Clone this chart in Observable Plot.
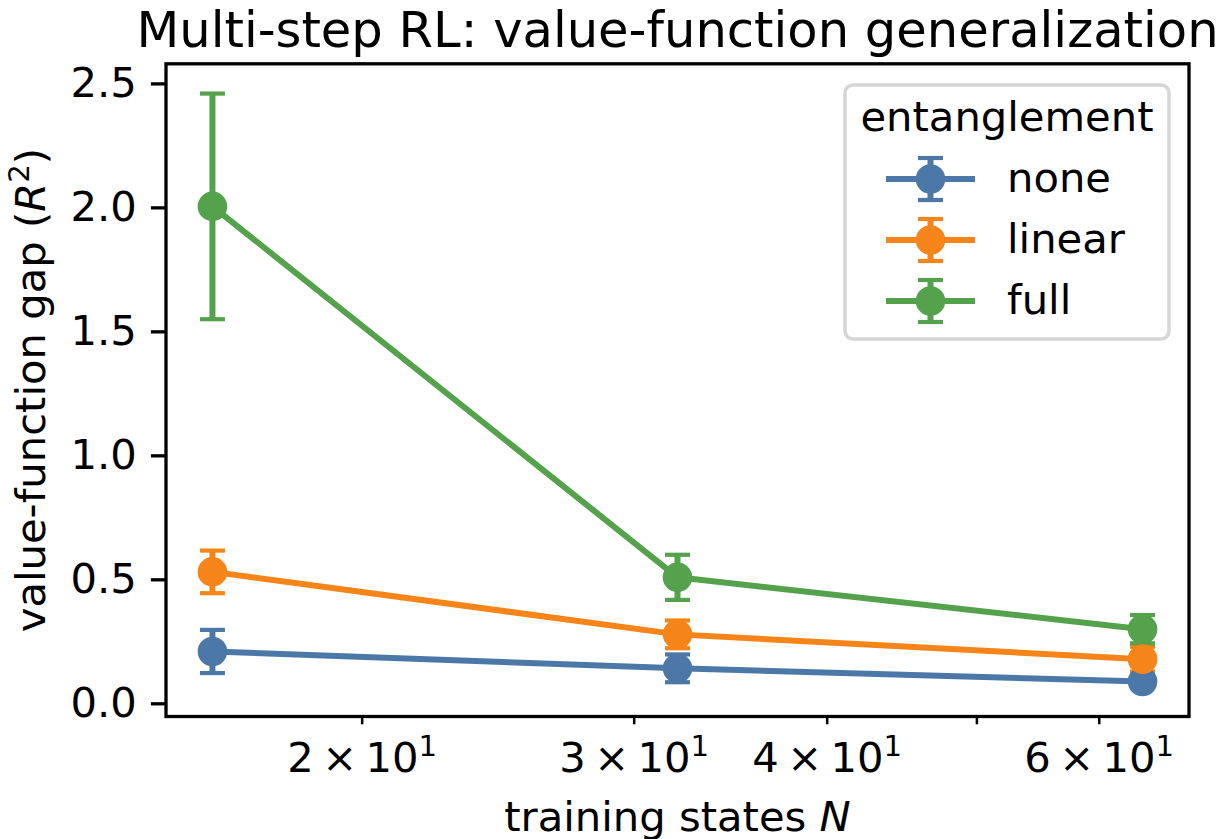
<!DOCTYPE html>
<html>
<head>
<meta charset="utf-8">
<script src="https://cdn.jsdelivr.net/npm/d3@7"></script>
<script src="https://cdn.jsdelivr.net/npm/@observablehq/plot@0.6"></script>
<style>
  html, body { margin: 0; padding: 0; background: #fff; }
  #figure { position: relative; width: 1220px; height: 839px; overflow: hidden; background: #fff; }
  #figure > svg { position: absolute; left: 0; top: 0; }
</style>
</head>
<body>
<div id="figure"></div>
<script>
// ---- data -------------------------------------------------------------
const trainingStates = [16, 32, 64];
const seriesNames = ["none", "linear", "full"];
const seriesColors = ["#4c78a8", "#f58518", "#54a24b"];

// mean value-function gap and its error (half-width) per number of training states
const gapNone   = [0.211, 0.143, 0.090];
const errNone   = [0.087, 0.056, 0.022];
const gapLinear = [0.532, 0.280, 0.180];
const errLinear = [0.086, 0.056, 0.050];
const gapFull   = [2.006, 0.510, 0.301];
const errFull   = [0.455, 0.091, 0.057];

const xTicks = [20, 30, 40, 50, 60];
const xTickLabels = ["2^1", "3^1", "4^1", "", "6^1"]; // mantissa^exponent, base 10
const yTicks = [0, 0.5, 1.0, 1.5, 2.0, 2.5];

const titleText = "Multi-step RL: value-function generalization";
const xLabelText = "training states N";
const yLabelText = "value-function gap (R2)";
const legendTitle = "entanglement";

// ---- table for the marks ----------------------------------------------
const gaps = [gapNone, gapLinear, gapFull];
const errs = [errNone, errLinear, errFull];
const rows = [];
seriesNames.forEach((s, i) => trainingStates.forEach((n, j) => {
  const g = gaps[i][j], e = errs[i][j];
  rows.push({series: s, N: n, gap: g, lo: g - e, hi: g + e});
}));

const FONT = "DejaVu Sans";
const FS = 41.7;       // 10 pt
const FS_TITLE = 49.6; // 12 pt

// horizontal bar used as an error-bar cap
const capSymbol = {
  draw(context, size) {
    const w = Math.sqrt(size / Math.PI);
    context.moveTo(-w, 0);
    context.lineTo(w, 0);
  }
};

const marks = [];
// error bars (drawn beneath lines and markers)
seriesNames.forEach((s, i) => {
  const sub = rows.filter(r => r.series === s);
  const c = seriesColors[i];
  marks.push(Plot.ruleX(sub, {x: "N", y1: "lo", y2: "hi", stroke: c, strokeWidth: 6}));
  marks.push(Plot.dot(sub, {x: "N", y: "hi", symbol: capSymbol, r: 12.5, stroke: c, strokeWidth: 4.2, fill: "none"}));
  marks.push(Plot.dot(sub, {x: "N", y: "lo", symbol: capSymbol, r: 12.5, stroke: c, strokeWidth: 4.2, fill: "none"}));
});
// lines with circular markers
seriesNames.forEach((s, i) => {
  const sub = rows.filter(r => r.series === s);
  const c = seriesColors[i];
  marks.push(Plot.line(sub, {x: "N", y: "gap", stroke: c, strokeWidth: 6}));
  marks.push(Plot.dot(sub, {x: "N", y: "gap", r: 14.8, fill: c, stroke: "none"}));
});

const chart = Plot.plot({
  width: 1220,
  height: 839,
  marginLeft: 165.5,
  marginRight: 31.5,
  marginTop: 63.3,
  marginBottom: 123,
  style: {fontFamily: FONT, fontSize: FS + "px", color: "black", background: "white", overflow: "visible"},
  x: {type: "log", domain: [14.93, 68.59]},
  y: {domain: [-0.0512, 2.581]},
  marks: [
    ...marks,
    Plot.frame({stroke: "black", strokeWidth: 3.3}),
    Plot.axisY(yTicks, {
      anchor: "left", label: null, tickSize: 14.6, tickPadding: 14.6, strokeWidth: 3.3,
      fontSize: FS, tickFormat: d => d.toFixed(1)
    }),
    Plot.axisX(xTicks, {
      anchor: "bottom", label: null, tickSize: 8.3, tickPadding: 18, strokeWidth: 2.5,
      fontSize: FS, tickFormat: d => xTickLabels[xTicks.indexOf(d)]
    }),
    Plot.text([titleText], {frameAnchor: "top", textAnchor: "middle", lineAnchor: "bottom", dy: -17, fontSize: FS_TITLE}),
    Plot.text([xLabelText], {frameAnchor: "bottom", textAnchor: "middle", lineAnchor: "bottom", dy: 114, fontSize: FS}),
    Plot.text([yLabelText], {frameAnchor: "left", textAnchor: "middle", lineAnchor: "middle", rotate: -90, dx: -134, fontSize: FS})
  ]
});

// ---- rich text (italics, superscripts) --------------------------------
const SVGNS = "http://www.w3.org/2000/svg";
function richText(el, parts) {
  el.textContent = "";
  for (const p of parts) {
    const ts = document.createElementNS(SVGNS, "tspan");
    ts.textContent = p.t;
    if (p.italic) ts.setAttribute("font-style", "italic");
    if (p.size) ts.setAttribute("font-size", p.size);
    if (p.dy) ts.setAttribute("dy", p.dy);
    el.appendChild(ts);
  }
}
const SUP = 0.7 * FS, SUP_SHIFT = 0.4 * FS;
chart.querySelectorAll("text").forEach(el => {
  const s = el.textContent;
  if (s === yLabelText) {
    richText(el, [
      {t: "value-function gap ("},
      {t: "R", italic: true},
      {t: "2", size: SUP, dy: -SUP_SHIFT},
      {t: ")", dy: SUP_SHIFT}
    ]);
  } else if (s === xLabelText) {
    richText(el, [{t: "training states "}, {t: "N", italic: true}]);
  } else if (/^\d\^\d$/.test(s)) {
    const [m, e] = s.split("^");
    richText(el, [{t: m + "\u2009\u00d7\u200910"}, {t: e, size: SUP, dy: -SUP_SHIFT}]);
  }
});

const fig = document.getElementById("figure");
fig.appendChild(chart);

// ---- legend ------------------------------------------------------------
const overlay = d3.select(fig).append("svg")
  .attr("width", 1220).attr("height", 839)
  .style("pointer-events", "none")
  .attr("font-family", FONT).attr("font-size", FS);
const lg = overlay.append("g");
lg.append("rect")
  .attr("x", 845).attr("y", 85).attr("width", 324).attr("height", 254).attr("rx", 8)
  .attr("fill", "white").attr("fill-opacity", 0.8)
  .attr("stroke", "#d6d6d6").attr("stroke-width", 3.5);
lg.append("text").attr("x", 1007).attr("y", 131).attr("text-anchor", "middle").text(legendTitle);
seriesNames.forEach((s, i) => {
  const cy = 179 + i * 61, c = seriesColors[i];
  const row = lg.append("g");
  row.append("line").attr("x1", 886).attr("x2", 975).attr("y1", cy).attr("y2", cy)
    .attr("stroke", c).attr("stroke-width", 6);
  row.append("line").attr("x1", 930.5).attr("x2", 930.5).attr("y1", cy - 21).attr("y2", cy + 21)
    .attr("stroke", c).attr("stroke-width", 6);
  for (const dy of [-21, 21]) {
    row.append("line").attr("x1", 918).attr("x2", 943).attr("y1", cy + dy).attr("y2", cy + dy)
      .attr("stroke", c).attr("stroke-width", 4.2);
  }
  row.append("circle").attr("cx", 930.5).attr("cy", cy).attr("r", 14.8).attr("fill", c);
  row.append("text").attr("x", 1007).attr("y", cy + 13).text(s);
});
</script>
</body>
</html>
